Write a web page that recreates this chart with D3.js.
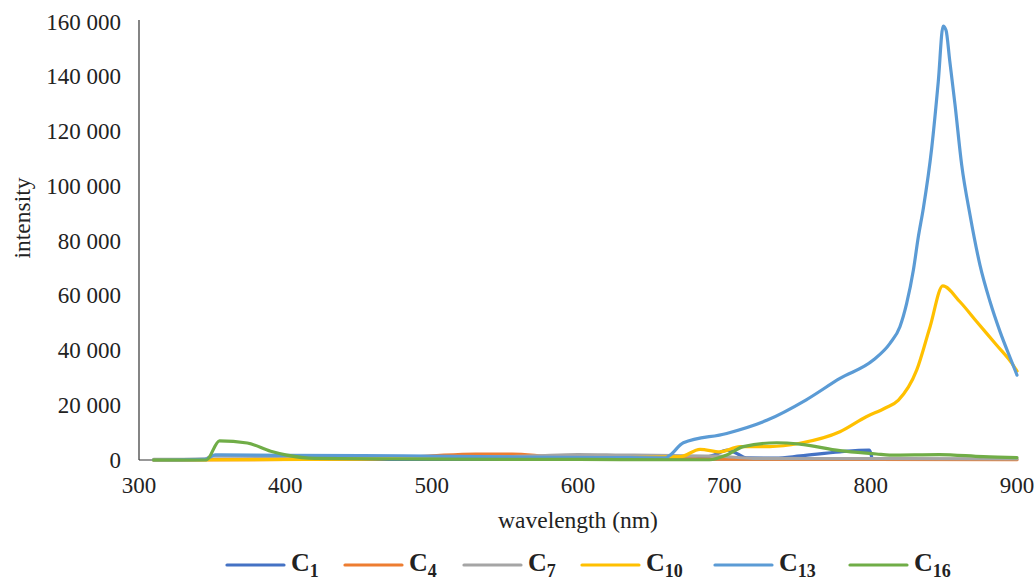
<!DOCTYPE html>
<html>
<head>
<meta charset="utf-8">
<script src="https://cdn.jsdelivr.net/npm/d3@7"></script>
<style>
  body { margin: 0; background: #fff; }
</style>
</head>
<body>
<svg id="chart" width="1036" height="581"></svg>
<script>
// --- DATA --- //
var seriesNames = ["C1", "C4", "C7", "C10", "C13", "C16"];
var seriesColors = ["#4472C4", "#ED7D31", "#A5A5A5", "#FFC000", "#5B9BD5", "#70AD47"];

var c1Points = [[310, 100], [350, 200], [400, 300], [500, 200], [600, 300], [680, 400],
	[693, 1800], [702, 3600], [708.5, 2400], [715, 800], [735, 700], [752, 1500], [779, 3000], [799, 3600], [801, 300]];
var c4Points = [[310, 0], [400, 200], [470, 600], [500, 1500], [530, 2200], [555, 2200], [580, 1300], [620, 600],
	[700, 300], [800, 200], [900, 100]];
var c7Points = [[310, 200], [345, 300], [350, 1500], [400, 1200], [450, 900], [520, 900], [570, 1500], [600, 2000],
	[630, 1800], [665, 1600], [695, 1400], [720, 600], [760, 500], [820, 500], [900, 400]];
var c10Points = [[310, 0], [450, 300], [500, 800], [600, 700], [670, 1200], [683.4, 3900], [697, 3000], [710.7, 4900],
	[731, 4900], [751.6, 6100], [779, 10300], [797, 15800], [810, 19000], [819, 21900], [831.5, 32900],
	[840.6, 48700], [849.3, 63600], [861, 57800], [872.5, 50500], [886, 42000], [896.4, 35400], [900, 32500]];
var c13Points = [[310, 0], [345, 200], [352, 1900], [400, 1700], [480, 1500], [560, 1100], [620, 900], [660, 800],
	[663, 1800], [672, 6300], [701.6, 9700], [729, 14500], [756, 22000], [779, 29800], [801.8, 36500],
	[813.2, 42600], [820, 48700], [824.6, 57200], [829.2, 69400], [832.6, 81600], [836, 92000],
	[841.7, 113900], [846.2, 138200], [849.5, 158500], [851.5, 157000],
	[854, 146000], [857.6, 130000], [862.2, 107800], [867.9, 89500], [874.7, 71200], [881.6, 57800],
	[888.4, 46900], [896.4, 35900], [900, 31000]];
var c16Points = [[310, 0], [346, 0], [355, 7000], [374, 6200], [390, 3200], [401, 1800], [420, 600], [500, 300],
	[600, 200], [690, 100], [701.6, 1800], [713, 4900], [735.8, 6300], [751.6, 5800], [779, 3400], [804, 2200],
	[813, 1800], [847, 2000], [877, 1200], [900, 900]];

var xTicks = [300, 400, 500, 600, 700, 800, 900];
var yTicks = [0, 20000, 40000, 60000, 80000, 100000, 120000, 140000, 160000];

var allSeries = [c1Points, c4Points, c7Points, c10Points, c13Points, c16Points];

// --- LAYOUT --- //
var svg = d3.select("#chart"),
	plotLeft = 139, plotRight = 1017, plotTop = 22, plotBottom = 460,
	serif = "Liberation Serif",
	ink = "#222";

var x = d3.scaleLinear().domain([300, 900]).range([plotLeft, plotRight]);
var y = d3.scaleLinear().domain([0, 160000]).range([plotBottom, plotTop]);

var fmt = function(v) { return d3.format(",")(v).replace(/,/g, " "); };

// y tick labels
svg.append("g").selectAll("text").data(yTicks).enter().append("text")
	.attr("x", plotLeft - 18)
	.attr("y", function(d) { return y(d); })
	.attr("dy", "0.33em")
	.attr("text-anchor", "end")
	.attr("font-family", serif).attr("fill", ink)
	.attr("font-size", 23)
	.text(fmt);

// x tick labels
svg.append("g").selectAll("text").data(xTicks).enter().append("text")
	.attr("x", function(d) { return x(d); })
	.attr("y", plotBottom + 33)
	.attr("text-anchor", "middle")
	.attr("font-family", serif).attr("fill", ink)
	.attr("font-size", 23)
	.text(function(d) { return d; });

// axis lines
svg.append("line").attr("x1", plotLeft).attr("x2", plotLeft).attr("y1", plotTop - 2).attr("y2", plotBottom)
	.attr("stroke", "#333").attr("stroke-width", 1.2);
svg.append("line").attr("x1", plotLeft).attr("x2", plotRight).attr("y1", plotBottom).attr("y2", plotBottom)
	.attr("stroke", "#333").attr("stroke-width", 1.2);

// axis titles
svg.append("text")
	.attr("x", (plotLeft + plotRight) / 2).attr("y", 528)
	.attr("text-anchor", "middle").attr("font-size", 23.5)
	.attr("font-family", serif).attr("fill", ink)
	.text("wavelength (nm)");
svg.append("text")
	.attr("transform", "translate(30," + 218 + ") rotate(-90)")
	.attr("text-anchor", "middle").attr("font-size", 23.5)
	.attr("font-family", serif).attr("fill", ink)
	.text("intensity");

// --- LINES --- //
var line = d3.line()
	.x(function(d) { return x(d[0]); })
	.y(function(d) { return y(d[1]); })
	.curve(d3.curveMonotoneX);

svg.append("g").selectAll("path").data(allSeries).enter().append("path")
	.attr("d", line)
	.attr("fill", "none")
	.attr("stroke", function(d, i) { return seriesColors[i]; })
	.attr("stroke-width", 3.2)
	.attr("stroke-linejoin", "round")
	.attr("stroke-linecap", "round");

// --- LEGEND --- //
var legendX = [227, 345, 464, 582, 715, 850];
var legend = svg.append("g").selectAll("g").data(seriesNames).enter().append("g")
	.attr("transform", function(d, i) { return "translate(" + legendX[i] + ",565)"; });

legend.append("line")
	.attr("x1", 0).attr("x2", 57).attr("y1", 0).attr("y2", 0)
	.attr("stroke", function(d, i) { return seriesColors[i]; })
	.attr("stroke-width", 3.2).attr("stroke-linecap", "round");

var lt = legend.append("text")
	.attr("x", 64).attr("y", 6)
	.attr("font-family", serif).attr("fill", ink)
	.attr("font-size", 26).attr("font-weight", "bold");
lt.append("tspan").text("C");
lt.append("tspan").attr("font-size", 18).attr("dy", 6).text(function(d) { return d.slice(1); });
</script>
</body>
</html>
